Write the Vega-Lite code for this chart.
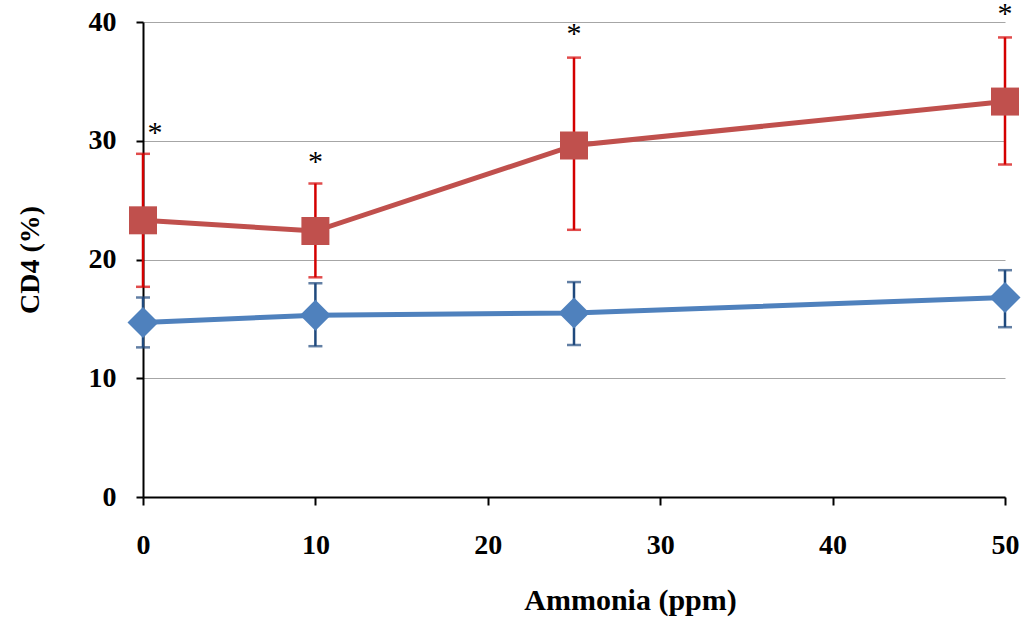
{
  "$schema": "https://vega.github.io/schema/vega-lite/v6.json",
  "width": 862,
  "height": 475,
  "autosize": "none",
  "padding": {"left": 143, "top": 22, "right": 24, "bottom": 126},
  "background": "white",
  "config": {
    "view": {"stroke": null},
    "font": "Liberation Serif"
  },
  "datasets": {
    "series": [
      {"ppm": 0, "cd4": 14.7, "lo": 12.6, "hi": 16.8, "group": "blue"},
      {"ppm": 10, "cd4": 15.3, "lo": 12.7, "hi": 18.0, "group": "blue"},
      {"ppm": 25, "cd4": 15.5, "lo": 12.8, "hi": 18.1, "group": "blue"},
      {"ppm": 50, "cd4": 16.8, "lo": 14.3, "hi": 19.1, "group": "blue"},
      {"ppm": 0, "cd4": 23.3, "lo": 17.7, "hi": 28.9, "group": "red"},
      {"ppm": 10, "cd4": 22.4, "lo": 18.5, "hi": 26.4, "group": "red"},
      {"ppm": 25, "cd4": 29.6, "lo": 22.5, "hi": 37.0, "group": "red"},
      {"ppm": 50, "cd4": 33.3, "lo": 28.0, "hi": 38.7, "group": "red"}
    ],
    "stars": [
      {"ppm": 0.7, "y": 31.2, "label": "*"},
      {"ppm": 10, "y": 28.7, "label": "*"},
      {"ppm": 25, "y": 39.5, "label": "*"},
      {"ppm": 50, "y": 41.2, "label": "*"}
    ]
  },
  "layer": [
    {
      "data": {"name": "series"},
      "transform": [{"filter": "datum.group == 'blue'"}],
      "mark": {"type": "rule", "color": "#1f497d", "strokeWidth": 2.5},
      "encoding": {
        "x": {
          "field": "ppm", "type": "quantitative",
          "scale": {"domain": [0, 50], "nice": false},
          "axis": {
            "values": [0, 10, 20, 30, 40, 50],
            "title": "Ammonia (ppm)",
            "grid": false,
            "domainColor": "black", "domainWidth": 2,
            "tickColor": "black", "tickWidth": 2, "tickSize": 8,
            "labelFont": "Liberation Serif", "labelFontWeight": "bold", "labelFontSize": 28, "labelColor": "black",
            "labelPadding": 26, "labelFlush": false,
            "titleFont": "Liberation Serif", "titleFontWeight": "bold", "titleFontSize": 30, "titleColor": "black",
            "titleX": 487, "titleY": 88
          }
        },
        "y": {
          "field": "lo", "type": "quantitative",
          "scale": {"domain": [0, 40], "nice": false},
          "axis": {
            "values": [0, 10, 20, 30, 40],
            "title": "CD4 (%)",
            "grid": true, "gridColor": "#a6a6a6", "gridWidth": 1.2,
            "domainColor": "black", "domainWidth": 2,
            "tickColor": "black", "tickWidth": 2, "tickSize": 7,
            "labelFont": "Liberation Serif", "labelFontWeight": "bold", "labelFontSize": 28, "labelColor": "black",
            "labelPadding": 20,
            "titleFont": "Liberation Serif", "titleFontWeight": "bold", "titleFontSize": 28, "titleColor": "black",
            "titlePadding": 44
          }
        },
        "y2": {"field": "hi"}
      }
    },
    {
      "data": {"name": "series"},
      "transform": [{"filter": "datum.group == 'blue'"}, {"fold": ["lo", "hi"], "as": ["end", "val"]}],
      "mark": {"type": "tick", "color": "#1f497d", "thickness": 2.5, "size": 14, "orient": "horizontal"},
      "encoding": {
        "x": {"field": "ppm", "type": "quantitative"},
        "y": {"field": "val", "type": "quantitative"}
      }
    },
    {
      "data": {"name": "series"},
      "transform": [{"filter": "datum.group == 'red'"}],
      "mark": {"type": "rule", "color": "#d40000", "strokeWidth": 2.5},
      "encoding": {
        "x": {"field": "ppm", "type": "quantitative"},
        "y": {"field": "lo", "type": "quantitative"},
        "y2": {"field": "hi"}
      }
    },
    {
      "data": {"name": "series"},
      "transform": [{"filter": "datum.group == 'red'"}, {"fold": ["lo", "hi"], "as": ["end", "val"]}],
      "mark": {"type": "tick", "color": "#d40000", "thickness": 2.5, "size": 14, "orient": "horizontal"},
      "encoding": {
        "x": {"field": "ppm", "type": "quantitative"},
        "y": {"field": "val", "type": "quantitative"}
      }
    },
    {
      "data": {"name": "series"},
      "transform": [{"filter": "datum.group == 'blue'"}],
      "mark": {"type": "line", "color": "#4f81bd", "strokeWidth": 5},
      "encoding": {
        "x": {"field": "ppm", "type": "quantitative"},
        "y": {"field": "cd4", "type": "quantitative"}
      }
    },
    {
      "data": {"name": "series"},
      "transform": [{"filter": "datum.group == 'red'"}],
      "mark": {"type": "line", "color": "#c0504d", "strokeWidth": 5},
      "encoding": {
        "x": {"field": "ppm", "type": "quantitative"},
        "y": {"field": "cd4", "type": "quantitative"}
      }
    },
    {
      "data": {"name": "series"},
      "transform": [{"filter": "datum.group == 'blue'"}],
      "mark": {"type": "point", "shape": "diamond", "filled": true, "color": "#4f81bd", "opacity": 1, "size": 960},
      "encoding": {
        "x": {"field": "ppm", "type": "quantitative"},
        "y": {"field": "cd4", "type": "quantitative"}
      }
    },
    {
      "data": {"name": "series"},
      "transform": [{"filter": "datum.group == 'red'"}],
      "mark": {"type": "point", "shape": "square", "filled": true, "color": "#c0504d", "opacity": 1, "size": 784},
      "encoding": {
        "x": {"field": "ppm", "type": "quantitative"},
        "y": {"field": "cd4", "type": "quantitative"}
      }
    },
    {
      "data": {"name": "stars"},
      "mark": {"type": "text", "font": "Liberation Serif", "fontSize": 30, "color": "black", "baseline": "middle", "dy": 6},
      "encoding": {
        "x": {"field": "ppm", "type": "quantitative"},
        "y": {"field": "y", "type": "quantitative"},
        "text": {"field": "label"}
      }
    }
  ]
}
